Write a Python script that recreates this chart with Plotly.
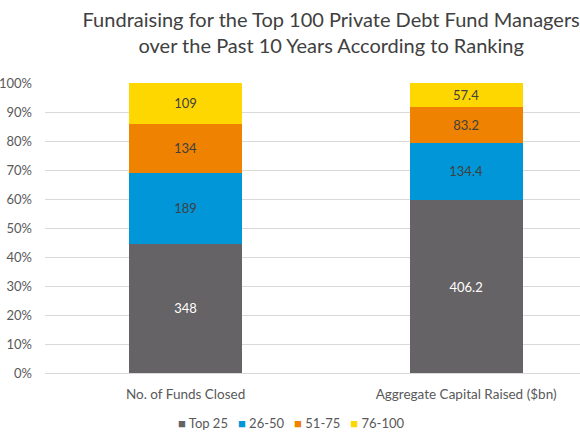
import plotly.graph_objects as go

# Data
categories = ["No. of Funds Closed", "Aggregate Capital Raised ($bn)"]
series_names = ["Top 25", "26-50", "51-75", "76-100"]
top25 = [348, 406.2]
r26_50 = [189, 134.4]
r51_75 = [134, 83.2]
r76_100 = [109, 57.4]
values = [top25, r26_50, r51_75, r76_100]
y_ticks = list(range(0, 101, 10))
y_tick_labels = [f"{t}%" for t in y_ticks]

colors = ["#666366", "#0096D8", "#EF8200", "#FFD700"]
text_colors = ["white", "#404040", "#404040", "#404040"]

fig = go.Figure()

for name, vals, col, tcol in zip(series_names, values, colors, text_colors):
    fig.add_trace(
        go.Bar(
            x=categories,
            y=vals,
            name=name,
            marker=dict(color=col, line=dict(width=0)),
            text=[f"{v:g}" for v in vals],
            textposition="inside",
            insidetextanchor="middle",
            textfont=dict(color=tcol, size=13, family="Lato"),
            width=0.403,
            showlegend=False,
        )
    )

# compact legend like the original (squares right next to labels)
legend_text = "   ".join(
    f"<span style='color:{c}'>■</span> {n}" for n, c in zip(series_names, colors)
)
fig.add_annotation(
    text=legend_text,
    xref="paper",
    yref="paper",
    x=0.46,
    y=-0.172,
    xanchor="center",
    yanchor="middle",
    showarrow=False,
    font=dict(size=13, color="#595959", family="Lato"),
)

fig.update_layout(
    barmode="stack",
    barnorm="percent",
    width=580,
    height=435,
    margin=dict(l=45, r=0, t=83, b=62),
    paper_bgcolor="white",
    plot_bgcolor="white",
    font=dict(family="Lato", color="#595959", size=12),
    title=dict(
        text="Fundraising for the Top 100 Private Debt Fund Managers<br>over the Past 10 Years According to Ranking",
        x=0.571,
        xanchor="center",
        xref="container",
        yref="paper",
        y=1,
        yanchor="bottom",
        pad=dict(b=56),
        font=dict(size=20, color="#404040", family="Lato"),
    ),
)

fig.update_xaxes(
    range=[-0.501, 1.406],
    showgrid=False,
    showline=False,
    ticks="",
    ticklabelstandoff=11,
    tickfont=dict(size=13.5, color="#595959"),
)
fig.update_yaxes(
    range=[0, 100],
    tickvals=y_ticks,
    ticktext=y_tick_labels,
    showgrid=True,
    gridcolor="#D9D9D9",
    gridwidth=1,
    zeroline=True,
    zerolinecolor="#D9D9D9",
    zerolinewidth=1,
    tickfont=dict(size=13, color="#595959"),
    ticklabelstandoff=12,
)

fig.write_html(
    "out.html",
    config={"displayModeBar": False},
    post_script="document.body.style.margin='0';",
)
